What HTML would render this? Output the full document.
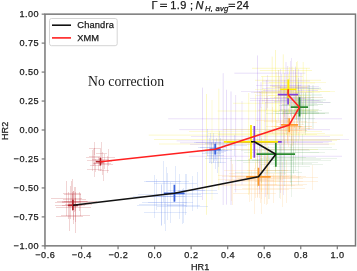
<!DOCTYPE html>
<html><head><meta charset="utf-8"><style>
html,body{margin:0;padding:0;background:#fff;width:357px;height:271px;overflow:hidden}
svg{display:block;will-change:transform;filter:blur(0.35px)}
text{font-family:"Liberation Sans",sans-serif;fill:#1a1a1a;stroke:#1a1a1a;stroke-width:0.25px}
</style></head><body>
<svg width="357" height="271" viewBox="0 0 357 271">

<defs><filter id="bl" x="-5%" y="-5%" width="110%" height="110%"><feGaussianBlur stdDeviation="0.45"/></filter></defs>
<g stroke-width="1" fill="none" filter="url(#bl)">
<path d="M202.5 87.6V200.0" stroke="#8040dc" stroke-opacity="0.18"/>
<path d="M223.2 73.2V205.0" stroke="#8040dc" stroke-opacity="0.18"/>
<path d="M226.5 89.8V204.6" stroke="#8040dc" stroke-opacity="0.18"/>
<path d="M231.0 91.4V205.0" stroke="#8040dc" stroke-opacity="0.18"/>
<path d="M235.6 95.0V192.4" stroke="#8040dc" stroke-opacity="0.16"/>
<path d="M242.0 101.0V185.0" stroke="#8040dc" stroke-opacity="0.14"/>
<path d="M168.2 118.8H342.0" stroke="#8040dc" stroke-opacity="0.16"/>
<path d="M179.3 129.6H330.0" stroke="#8040dc" stroke-opacity="0.16"/>
<path d="M176.7 140.8H332.0" stroke="#8040dc" stroke-opacity="0.14"/>
<path d="M188.9 156.3H342.0" stroke="#8040dc" stroke-opacity="0.16"/>
<path d="M180.0 142.8H328.7" stroke="#8040dc" stroke-opacity="0.14"/>
<path d="M206.5 94.0V214.8" stroke="#f0e000" stroke-opacity="0.22"/>
<path d="M218.8 88.7V190.0" stroke="#f0e000" stroke-opacity="0.2"/>
<path d="M248.7 93.0V195.0" stroke="#f0e000" stroke-opacity="0.2"/>
<path d="M212.0 100.0V200.0" stroke="#f0e000" stroke-opacity="0.16"/>
<path d="M148.8 135.1H343.0" stroke="#f0e000" stroke-opacity="0.2"/>
<path d="M154.0 139.5H340.0" stroke="#f0e000" stroke-opacity="0.2"/>
<path d="M159.0 144.0H335.0" stroke="#f0e000" stroke-opacity="0.2"/>
<path d="M233.0 103.3H300.0" stroke="#f0e000" stroke-opacity="0.18"/>
<path d="M217.6 111.0H300.0" stroke="#f0e000" stroke-opacity="0.18"/>
<path d="M272.2 56.6V123.0" stroke="#f0e000" stroke-opacity="0.22"/>
<path d="M275.5 50.0V128.0" stroke="#f0e000" stroke-opacity="0.22"/>
<path d="M283.3 54.4V125.0" stroke="#f0e000" stroke-opacity="0.22"/>
<path d="M292.0 66.6V113.0" stroke="#f0e000" stroke-opacity="0.2"/>
<path d="M303.2 62.0V118.0" stroke="#f0e000" stroke-opacity="0.2"/>
<path d="M296.5 62.0V118.0" stroke="#f0e000" stroke-opacity="0.2"/>
<path d="M262.7 76.5V104.0" stroke="#f0e000" stroke-opacity="0.2"/>
<path d="M252.0 68.3H310.0" stroke="#f0e000" stroke-opacity="0.22"/>
<path d="M259.8 70.5H312.0" stroke="#f0e000" stroke-opacity="0.2"/>
<path d="M261.0 76.5H303.0" stroke="#f0e000" stroke-opacity="0.2"/>
<path d="M255.0 80.3H321.0" stroke="#f0e000" stroke-opacity="0.22"/>
<path d="M262.0 83.0H315.0" stroke="#f0e000" stroke-opacity="0.2"/>
<path d="M258.0 110.2H318.0" stroke="#f0e000" stroke-opacity="0.2"/>
<path d="M257.5 55.5V130.0" stroke="#8040dc" stroke-opacity="0.18"/>
<path d="M286.0 62.0V125.0" stroke="#8040dc" stroke-opacity="0.16"/>
<path d="M287.6 66.0V122.0" stroke="#8040dc" stroke-opacity="0.16"/>
<path d="M295.5 66.6V120.0" stroke="#8040dc" stroke-opacity="0.16"/>
<path d="M301.0 73.0V115.0" stroke="#8040dc" stroke-opacity="0.16"/>
<path d="M261.0 82.0V108.0" stroke="#8040dc" stroke-opacity="0.16"/>
<path d="M266.5 80.0V110.0" stroke="#8040dc" stroke-opacity="0.16"/>
<path d="M234.4 73.2H305.4" stroke="#8040dc" stroke-opacity="0.18"/>
<path d="M262.0 81.0H310.0" stroke="#8040dc" stroke-opacity="0.16"/>
<path d="M270.0 85.4H310.0" stroke="#8040dc" stroke-opacity="0.16"/>
<path d="M263.0 90.5H318.0" stroke="#8040dc" stroke-opacity="0.16"/>
<path d="M262.0 100.7H320.8" stroke="#8040dc" stroke-opacity="0.16"/>
<path d="M309.0 85.0V130.0" stroke="#2a8a30" stroke-opacity="0.18"/>
<path d="M313.0 85.0V128.0" stroke="#2a8a30" stroke-opacity="0.18"/>
<path d="M295.5 88.3H321.0" stroke="#2a8a30" stroke-opacity="0.18"/>
<path d="M280.0 95.0H321.6" stroke="#2a8a30" stroke-opacity="0.16"/>
<path d="M280.0 100.0H325.7" stroke="#2a8a30" stroke-opacity="0.16"/>
<path d="M282.0 104.5H323.0" stroke="#2a8a30" stroke-opacity="0.16"/>
<path d="M276.0 113.5H325.0" stroke="#2a8a30" stroke-opacity="0.16"/>
<path d="M51 198.5H82M66.5 181V216" stroke="#b8202a" stroke-opacity="0.2"/>
<path d="M63 193.5H80M71.5 181V206" stroke="#b8202a" stroke-opacity="0.2"/>
<path d="M62 201.5H97M79.5 192V211" stroke="#b8202a" stroke-opacity="0.2"/>
<path d="M55 205.5H82M68.5 192V219" stroke="#b8202a" stroke-opacity="0.2"/>
<path d="M65 204.5H86M75.5 187V222" stroke="#b8202a" stroke-opacity="0.2"/>
<path d="M57 201.5H88M72.5 192V211" stroke="#b8202a" stroke-opacity="0.2"/>
<path d="M62 202.5H79M70.5 186V219" stroke="#b8202a" stroke-opacity="0.2"/>
<path d="M56 207.5H91M73.5 191V224" stroke="#b8202a" stroke-opacity="0.2"/>
<path d="M56 216.5H83M69.5 202V231" stroke="#b8202a" stroke-opacity="0.2"/>
<path d="M61 215.5H90M75.5 198V233" stroke="#b8202a" stroke-opacity="0.2"/>
<path d="M64 201.5H87M75.5 192V211" stroke="#b8202a" stroke-opacity="0.2"/>
<path d="M62 205.5H85M73.5 191V220" stroke="#b8202a" stroke-opacity="0.2"/>
<path d="M69 204.5H92M80.5 193V216" stroke="#b8202a" stroke-opacity="0.2"/>
<path d="M63 199.5H86M74.5 187V212" stroke="#b8202a" stroke-opacity="0.2"/>
<path d="M55 202.5H90M72.5 194V211" stroke="#b8202a" stroke-opacity="0.2"/>
<path d="M64 194.5H81M72.5 179V210" stroke="#b8202a" stroke-opacity="0.2"/>
<path d="M90 165.5H101M95.5 159V172" stroke="#b8202a" stroke-opacity="0.18"/>
<path d="M98 170.5H109M103.5 160V181" stroke="#b8202a" stroke-opacity="0.18"/>
<path d="M102 157.5H115M108.5 149V166" stroke="#b8202a" stroke-opacity="0.18"/>
<path d="M87 160.5H98M92.5 150V171" stroke="#b8202a" stroke-opacity="0.18"/>
<path d="M96 153.5H107M101.5 142V165" stroke="#b8202a" stroke-opacity="0.18"/>
<path d="M94 163.5H111M102.5 152V175" stroke="#b8202a" stroke-opacity="0.18"/>
<path d="M87 169.5H102M94.5 162V177" stroke="#b8202a" stroke-opacity="0.18"/>
<path d="M93 163.5H104M98.5 157V170" stroke="#b8202a" stroke-opacity="0.18"/>
<path d="M89 148.5H100M94.5 142V155" stroke="#b8202a" stroke-opacity="0.18"/>
<path d="M97 161.5H112M104.5 154V169" stroke="#b8202a" stroke-opacity="0.18"/>
<path d="M86 157.5H101M93.5 149V166" stroke="#b8202a" stroke-opacity="0.18"/>
<path d="M102 164.5H113M107.5 156V173" stroke="#b8202a" stroke-opacity="0.18"/>
<path d="M92 159.5H109M100.5 148V171" stroke="#b8202a" stroke-opacity="0.18"/>
<path d="M89 156.5H100M94.5 148V165" stroke="#b8202a" stroke-opacity="0.18"/>
<path d="M167 205.5H200M183.5 188V223" stroke="#3c64e0" stroke-opacity="0.14"/>
<path d="M167 193.5H218M192.5 176V211" stroke="#3c64e0" stroke-opacity="0.14"/>
<path d="M138 194.5H175M156.5 179V210" stroke="#3c64e0" stroke-opacity="0.14"/>
<path d="M150 196.5H185M167.5 173V220" stroke="#3c64e0" stroke-opacity="0.14"/>
<path d="M168 190.5H205M186.5 174V207" stroke="#3c64e0" stroke-opacity="0.14"/>
<path d="M157 196.5H202M179.5 174V219" stroke="#3c64e0" stroke-opacity="0.14"/>
<path d="M139 204.5H184M161.5 184V225" stroke="#3c64e0" stroke-opacity="0.14"/>
<path d="M146 181.5H181M163.5 161V202" stroke="#3c64e0" stroke-opacity="0.14"/>
<path d="M148 202.5H193M170.5 182V223" stroke="#3c64e0" stroke-opacity="0.14"/>
<path d="M144 212.5H187M165.5 194V231" stroke="#3c64e0" stroke-opacity="0.14"/>
<path d="M170 194.5H201M185.5 174V215" stroke="#3c64e0" stroke-opacity="0.14"/>
<path d="M133 196.5H176M154.5 175V218" stroke="#3c64e0" stroke-opacity="0.14"/>
<path d="M142 202.5H187M164.5 181V224" stroke="#3c64e0" stroke-opacity="0.14"/>
<path d="M137 205.5H186M161.5 185V226" stroke="#3c64e0" stroke-opacity="0.14"/>
<path d="M178 190.5H217M197.5 172V209" stroke="#3c64e0" stroke-opacity="0.14"/>
<path d="M157 206.5H208M182.5 189V224" stroke="#3c64e0" stroke-opacity="0.14"/>
<path d="M144 181.5H189M166.5 167V196" stroke="#3c64e0" stroke-opacity="0.14"/>
<path d="M154 183.5H197M175.5 166V201" stroke="#3c64e0" stroke-opacity="0.14"/>
<path d="M194 142.5H221M207.5 129V156" stroke="#3c64e0" stroke-opacity="0.15"/>
<path d="M209 150.5H232M220.5 138V163" stroke="#3c64e0" stroke-opacity="0.15"/>
<path d="M205 158.5H232M218.5 150V167" stroke="#3c64e0" stroke-opacity="0.15"/>
<path d="M203 150.5H220M211.5 142V159" stroke="#3c64e0" stroke-opacity="0.15"/>
<path d="M205 152.5H224M214.5 144V161" stroke="#3c64e0" stroke-opacity="0.15"/>
<path d="M197 150.5H222M209.5 138V163" stroke="#3c64e0" stroke-opacity="0.15"/>
<path d="M209 162.5H226M217.5 152V173" stroke="#3c64e0" stroke-opacity="0.15"/>
<path d="M207 155.5H224M215.5 142V169" stroke="#3c64e0" stroke-opacity="0.15"/>
<path d="M203 150.5H228M215.5 142V159" stroke="#3c64e0" stroke-opacity="0.15"/>
<path d="M198 147.5H223M210.5 133V162" stroke="#3c64e0" stroke-opacity="0.15"/>
<path d="M205 143.5H234M219.5 131V156" stroke="#3c64e0" stroke-opacity="0.15"/>
<path d="M201 151.5H226M213.5 140V163" stroke="#3c64e0" stroke-opacity="0.15"/>
<path d="M222 145.5H247M234.5 135V156" stroke="#3c64e0" stroke-opacity="0.15"/>
<path d="M208 149.5H225M216.5 138V161" stroke="#3c64e0" stroke-opacity="0.15"/>
<path d="M200 147.5H227M213.5 133V162" stroke="#3c64e0" stroke-opacity="0.15"/>
<path d="M202 153.5H221M211.5 143V164" stroke="#3c64e0" stroke-opacity="0.15"/>
<path d="M212 139.5H349M280.5 86V193" stroke="#8040dc" stroke-opacity="0.13"/>
<path d="M191 136.5H330M260.5 92V181" stroke="#8040dc" stroke-opacity="0.13"/>
<path d="M190 144.5H329M259.5 100V189" stroke="#8040dc" stroke-opacity="0.13"/>
<path d="M222 149.5H309M265.5 102V197" stroke="#8040dc" stroke-opacity="0.13"/>
<path d="M196 142.5H323M259.5 91V194" stroke="#8040dc" stroke-opacity="0.13"/>
<path d="M235 141.5H332M283.5 88V195" stroke="#8040dc" stroke-opacity="0.13"/>
<path d="M218 134.5H317M267.5 96V173" stroke="#f0e000" stroke-opacity="0.16"/>
<path d="M214 140.5H337M275.5 96V185" stroke="#f0e000" stroke-opacity="0.16"/>
<path d="M189 131.5H322M255.5 94V169" stroke="#f0e000" stroke-opacity="0.16"/>
<path d="M208 133.5H325M266.5 92V175" stroke="#f0e000" stroke-opacity="0.16"/>
<path d="M205 149.5H318M261.5 107V192" stroke="#f0e000" stroke-opacity="0.16"/>
<path d="M223 129.5H306M264.5 89V170" stroke="#f0e000" stroke-opacity="0.16"/>
<path d="M218 184.5H277M232.5 164V205" stroke="#ff9020" stroke-opacity="0.12"/>
<path d="M255 181.5H318M286.5 160V203" stroke="#ff9020" stroke-opacity="0.12"/>
<path d="M224 170.5H291M257.5 150V197" stroke="#ff9020" stroke-opacity="0.12"/>
<path d="M218 185.5H295M251.5 170V201" stroke="#ff9020" stroke-opacity="0.12"/>
<path d="M233 193.5H276M254.5 168V214" stroke="#ff9020" stroke-opacity="0.12"/>
<path d="M229 173.5H286M257.5 150V198" stroke="#ff9020" stroke-opacity="0.12"/>
<path d="M236 178.5H303M269.5 158V199" stroke="#ff9020" stroke-opacity="0.12"/>
<path d="M225 180.5H274M249.5 159V202" stroke="#ff9020" stroke-opacity="0.12"/>
<path d="M238 178.5H291M264.5 153V204" stroke="#ff9020" stroke-opacity="0.12"/>
<path d="M247 170.5H288M267.5 150V194" stroke="#ff9020" stroke-opacity="0.12"/>
<path d="M273 177.5H318M312.5 165V190" stroke="#ff9020" stroke-opacity="0.12"/>
<path d="M229 176.5H306M267.5 150V204" stroke="#ff9020" stroke-opacity="0.12"/>
<path d="M232 176.5H289M260.5 150V203" stroke="#ff9020" stroke-opacity="0.12"/>
<path d="M242 188.5H305M273.5 174V203" stroke="#ff9020" stroke-opacity="0.12"/>
<path d="M236 179.5H283M259.5 161V198" stroke="#ff9020" stroke-opacity="0.12"/>
<path d="M230 181.5H303M266.5 158V205" stroke="#ff9020" stroke-opacity="0.12"/>
<path d="M235 177.5H300M267.5 160V195" stroke="#ff9020" stroke-opacity="0.12"/>
<path d="M218 175.5H296M249.5 158V193" stroke="#ff9020" stroke-opacity="0.12"/>
<path d="M258 184.5H307M282.5 162V207" stroke="#ff9020" stroke-opacity="0.12"/>
<path d="M218 179.5H267M231.5 158V201" stroke="#ff9020" stroke-opacity="0.12"/>
<path d="M234 189.5H289M261.5 165V214" stroke="#ff9020" stroke-opacity="0.12"/>
<path d="M229 180.5H282M255.5 163V198" stroke="#ff9020" stroke-opacity="0.12"/>
<path d="M222 176.5H301M261.5 154V199" stroke="#ff9020" stroke-opacity="0.12"/>
<path d="M258 185.5H303M280.5 172V199" stroke="#ff9020" stroke-opacity="0.12"/>
<path d="M244 152.5H319M281.5 129V176" stroke="#2a8a30" stroke-opacity="0.1"/>
<path d="M261 170.5H298M279.5 143V198" stroke="#2a8a30" stroke-opacity="0.1"/>
<path d="M260 158.5H337M298.5 132V185" stroke="#2a8a30" stroke-opacity="0.1"/>
<path d="M252 160.5H331M291.5 134V187" stroke="#2a8a30" stroke-opacity="0.1"/>
<path d="M262 152.5H325M293.5 131V174" stroke="#2a8a30" stroke-opacity="0.1"/>
<path d="M260 164.5H323M291.5 144V185" stroke="#2a8a30" stroke-opacity="0.1"/>
<path d="M248 159.5H321M284.5 133V186" stroke="#2a8a30" stroke-opacity="0.1"/>
<path d="M259 147.5H332M295.5 124V171" stroke="#2a8a30" stroke-opacity="0.1"/>
<path d="M241 150.5H310M275.5 129V172" stroke="#2a8a30" stroke-opacity="0.1"/>
<path d="M271 157.5H316M293.5 142V173" stroke="#2a8a30" stroke-opacity="0.1"/>
<path d="M268 149.5H337M302.5 134V165" stroke="#2a8a30" stroke-opacity="0.1"/>
<path d="M230 160.5H293M261.5 138V183" stroke="#2a8a30" stroke-opacity="0.1"/>
<path d="M263 157.5H306M284.5 140V175" stroke="#2a8a30" stroke-opacity="0.1"/>
<path d="M243 162.5H318M280.5 145V180" stroke="#2a8a30" stroke-opacity="0.1"/>
<path d="M269 163.5H312M290.5 144V183" stroke="#2a8a30" stroke-opacity="0.1"/>
<path d="M273 166.5H310M291.5 136V197" stroke="#2a8a30" stroke-opacity="0.1"/>
<path d="M235 172.5H302M268.5 146V199" stroke="#2a8a30" stroke-opacity="0.1"/>
<path d="M237 160.5H278M257.5 134V187" stroke="#2a8a30" stroke-opacity="0.1"/>
<path d="M269 132.5H306M287.5 121V144" stroke="#ff9020" stroke-opacity="0.13"/>
<path d="M277 126.5H302M289.5 116V137" stroke="#ff9020" stroke-opacity="0.13"/>
<path d="M262 133.5H291M276.5 120V147" stroke="#ff9020" stroke-opacity="0.13"/>
<path d="M266 126.5H303M284.5 109V144" stroke="#ff9020" stroke-opacity="0.13"/>
<path d="M273 128.5H310M291.5 109V148" stroke="#ff9020" stroke-opacity="0.13"/>
<path d="M264 121.5H307M285.5 111V132" stroke="#ff9020" stroke-opacity="0.13"/>
<path d="M285 128.5H314M299.5 118V139" stroke="#ff9020" stroke-opacity="0.13"/>
<path d="M256 120.5H289M272.5 107V134" stroke="#ff9020" stroke-opacity="0.13"/>
<path d="M271 126.5H312M291.5 112V141" stroke="#ff9020" stroke-opacity="0.13"/>
<path d="M279 124.5H304M291.5 114V135" stroke="#ff9020" stroke-opacity="0.13"/>
<path d="M274 126.5H301M287.5 112V141" stroke="#ff9020" stroke-opacity="0.13"/>
<path d="M278 127.5H299M288.5 108V147" stroke="#ff9020" stroke-opacity="0.13"/>
<path d="M278 130.5H307M292.5 115V146" stroke="#ff9020" stroke-opacity="0.13"/>
<path d="M282 127.5H305M293.5 112V143" stroke="#ff9020" stroke-opacity="0.13"/>
<path d="M276 122.5H317M296.5 110V135" stroke="#ff9020" stroke-opacity="0.13"/>
<path d="M281 126.5H312M296.5 111V142" stroke="#ff9020" stroke-opacity="0.13"/>
<path d="M265 130.5H302M283.5 111V150" stroke="#ff9020" stroke-opacity="0.13"/>
<path d="M268 130.5H307M287.5 118V143" stroke="#ff9020" stroke-opacity="0.13"/>
<path d="M292 112.5H319M305.5 93V132" stroke="#2a8a30" stroke-opacity="0.11"/>
<path d="M290 103.5H317M303.5 93V114" stroke="#2a8a30" stroke-opacity="0.11"/>
<path d="M283 111.5H318M300.5 95V128" stroke="#2a8a30" stroke-opacity="0.11"/>
<path d="M279 110.5H322M300.5 100V121" stroke="#2a8a30" stroke-opacity="0.11"/>
<path d="M286 113.5H319M302.5 102V125" stroke="#2a8a30" stroke-opacity="0.11"/>
<path d="M273 111.5H316M294.5 95V128" stroke="#2a8a30" stroke-opacity="0.11"/>
<path d="M288 102.5H331M309.5 86V119" stroke="#2a8a30" stroke-opacity="0.11"/>
<path d="M266 113.5H307M286.5 92V135" stroke="#2a8a30" stroke-opacity="0.11"/>
<path d="M283 97.5H314M298.5 78V117" stroke="#2a8a30" stroke-opacity="0.11"/>
<path d="M285 110.5H310M297.5 98V123" stroke="#2a8a30" stroke-opacity="0.11"/>
<path d="M284 118.5H315M299.5 108V129" stroke="#2a8a30" stroke-opacity="0.11"/>
<path d="M289 99.5H314M301.5 89V110" stroke="#2a8a30" stroke-opacity="0.11"/>
<path d="M282 113.5H329M305.5 92V135" stroke="#2a8a30" stroke-opacity="0.11"/>
<path d="M279 105.5H314M296.5 91V120" stroke="#2a8a30" stroke-opacity="0.11"/>
<path d="M280 109.5H319M299.5 90V129" stroke="#2a8a30" stroke-opacity="0.11"/>
<path d="M281 105.5H318M299.5 93V118" stroke="#2a8a30" stroke-opacity="0.11"/>
<path d="M274 101.5H323M298.5 82V121" stroke="#2a8a30" stroke-opacity="0.11"/>
<path d="M282 112.5H329M305.5 97V128" stroke="#2a8a30" stroke-opacity="0.11"/>
<path d="M250 98.5H311M280.5 69V128" stroke="#8040dc" stroke-opacity="0.13"/>
<path d="M241 91.5H294M267.5 75V108" stroke="#8040dc" stroke-opacity="0.13"/>
<path d="M275 87.5H308M291.5 58V117" stroke="#8040dc" stroke-opacity="0.13"/>
<path d="M274 97.5H323M298.5 69V126" stroke="#8040dc" stroke-opacity="0.13"/>
<path d="M264 98.5H305M284.5 80V117" stroke="#8040dc" stroke-opacity="0.13"/>
<path d="M251 92.5H312M281.5 74V111" stroke="#8040dc" stroke-opacity="0.13"/>
<path d="M250 100.5H319M284.5 73V128" stroke="#8040dc" stroke-opacity="0.13"/>
<path d="M272 86.5H319M295.5 69V104" stroke="#8040dc" stroke-opacity="0.13"/>
<path d="M278 87.5H309M293.5 70V105" stroke="#8040dc" stroke-opacity="0.13"/>
<path d="M265 102.5H330M298.5 85V120" stroke="#8040dc" stroke-opacity="0.13"/>
<path d="M262 88.5H319M290.5 61V116" stroke="#8040dc" stroke-opacity="0.13"/>
<path d="M256 85.5H301M278.5 70V101" stroke="#8040dc" stroke-opacity="0.13"/>
<path d="M261 93.5H298M279.5 76V111" stroke="#f0e000" stroke-opacity="0.14"/>
<path d="M268 95.5H311M289.5 78V113" stroke="#f0e000" stroke-opacity="0.14"/>
<path d="M256 95.5H301M278.5 70V121" stroke="#f0e000" stroke-opacity="0.14"/>
<path d="M269 82.5H326M297.5 61V104" stroke="#f0e000" stroke-opacity="0.14"/>
<path d="M254 92.5H299M276.5 72V113" stroke="#f0e000" stroke-opacity="0.14"/>
<path d="M266 87.5H307M286.5 74V101" stroke="#f0e000" stroke-opacity="0.14"/>
<path d="M270 97.5H323M296.5 75V120" stroke="#f0e000" stroke-opacity="0.14"/>
<path d="M255 89.5H322M288.5 74V105" stroke="#f0e000" stroke-opacity="0.14"/>
<path d="M259 92.5H320M289.5 71V114" stroke="#f0e000" stroke-opacity="0.14"/>
<path d="M278 91.5H335M306.5 68V115" stroke="#f0e000" stroke-opacity="0.14"/>
<path d="M270 86.5H309M289.5 67V106" stroke="#f0e000" stroke-opacity="0.14"/>
<path d="M261 91.5H330M295.5 72V111" stroke="#f0e000" stroke-opacity="0.14"/>
</g>
<path d="M67.9 205.3H77.9M72.9 199.8V210.1" stroke="#b3242c" stroke-width="1.7" fill="none"/>
<path d="M163.9 193.3H184.6M174.4 184.8V201.8" stroke="#3c64dc" stroke-width="1.7" fill="none"/>
<path d="M246.2 176.8H270.7M258.5 167.7V185.8" stroke="#ff9a2e" stroke-width="1.7" fill="none"/>
<path d="M256.6 154.2H295.0M275.8 141.2V166.7" stroke="#2a8a30" stroke-width="1.7" fill="none"/>
<path d="M227.0 141.8H281.7M254.3 126.0V157.8" stroke="#8040dc" stroke-width="1.7" fill="none"/>
<path d="M223.8 141.8H278.0M251.0 125.1V158.9" stroke="#ffea00" stroke-width="1.7" fill="none"/>
<path d="M95.8 161.7H103.6M100.4 157.8V165.6" stroke="#b3242c" stroke-width="1.7" fill="none"/>
<path d="M209.6 149.3H220.7M215.2 143.8V154.6" stroke="#3c64dc" stroke-width="1.7" fill="none"/>
<path d="M281.1 124.9H298.0M289.2 118.3V132.3" stroke="#ff9a2e" stroke-width="1.7" fill="none"/>
<path d="M290.7 107.2H308.1M299.5 97.3V116.5" stroke="#2a8a30" stroke-width="1.7" fill="none"/>
<path d="M277.8 94.7H298.0M288.1 89.0V104.5" stroke="#8040dc" stroke-width="1.7" fill="none"/>
<path d="M280.2 89.3H296.3M288.2 79.5V98.2" stroke="#ffea00" stroke-width="1.7" fill="none"/>
<path d="M72.9 205.3 L174.4 193.3 L258.5 176.8 L275.8 154.2 L254.3 141.8 L251.0 141.8" stroke="#111" stroke-width="1.6" fill="none" stroke-linejoin="round"/>
<path d="M100.4 161.7 L215.2 149.3 L289.2 124.9 L299.5 107.2 L288.1 94.7 L288.2 89.3" stroke="#ff2020" stroke-width="1.6" fill="none" stroke-linejoin="round"/>
<rect x="44.97" y="14.15" width="310.53" height="231.70" fill="none" stroke="#787878" stroke-width="1.5"/>
<line x1="44.98" y1="245.85" x2="44.98" y2="249.15" stroke="#787878" stroke-width="1.2"/>
<text x="45.28" y="258.3" font-size="9.1" letter-spacing="0.5" text-anchor="middle">−0.6</text>
<line x1="81.52" y1="245.85" x2="81.52" y2="249.15" stroke="#787878" stroke-width="1.2"/>
<text x="81.82" y="258.3" font-size="9.1" letter-spacing="0.5" text-anchor="middle">−0.4</text>
<line x1="118.06" y1="245.85" x2="118.06" y2="249.15" stroke="#787878" stroke-width="1.2"/>
<text x="118.36" y="258.3" font-size="9.1" letter-spacing="0.5" text-anchor="middle">−0.2</text>
<line x1="154.60" y1="245.85" x2="154.60" y2="249.15" stroke="#787878" stroke-width="1.2"/>
<text x="154.90" y="258.3" font-size="9.1" letter-spacing="0.5" text-anchor="middle">0.0</text>
<line x1="191.14" y1="245.85" x2="191.14" y2="249.15" stroke="#787878" stroke-width="1.2"/>
<text x="191.44" y="258.3" font-size="9.1" letter-spacing="0.5" text-anchor="middle">0.2</text>
<line x1="227.68" y1="245.85" x2="227.68" y2="249.15" stroke="#787878" stroke-width="1.2"/>
<text x="227.98" y="258.3" font-size="9.1" letter-spacing="0.5" text-anchor="middle">0.4</text>
<line x1="264.22" y1="245.85" x2="264.22" y2="249.15" stroke="#787878" stroke-width="1.2"/>
<text x="264.52" y="258.3" font-size="9.1" letter-spacing="0.5" text-anchor="middle">0.6</text>
<line x1="300.76" y1="245.85" x2="300.76" y2="249.15" stroke="#787878" stroke-width="1.2"/>
<text x="301.06" y="258.3" font-size="9.1" letter-spacing="0.5" text-anchor="middle">0.8</text>
<line x1="337.30" y1="245.85" x2="337.30" y2="249.15" stroke="#787878" stroke-width="1.2"/>
<text x="337.60" y="258.3" font-size="9.1" letter-spacing="0.5" text-anchor="middle">1.0</text>
<line x1="41.67" y1="14.15" x2="44.97" y2="14.15" stroke="#787878" stroke-width="1.2"/>
<text x="39.1" y="17.25" font-size="9.1" letter-spacing="0.5" text-anchor="end">1.00</text>
<line x1="41.67" y1="43.11" x2="44.97" y2="43.11" stroke="#787878" stroke-width="1.2"/>
<text x="39.1" y="46.21" font-size="9.1" letter-spacing="0.5" text-anchor="end">0.75</text>
<line x1="41.67" y1="72.08" x2="44.97" y2="72.08" stroke="#787878" stroke-width="1.2"/>
<text x="39.1" y="75.17" font-size="9.1" letter-spacing="0.5" text-anchor="end">0.50</text>
<line x1="41.67" y1="101.04" x2="44.97" y2="101.04" stroke="#787878" stroke-width="1.2"/>
<text x="39.1" y="104.14" font-size="9.1" letter-spacing="0.5" text-anchor="end">0.25</text>
<line x1="41.67" y1="130.00" x2="44.97" y2="130.00" stroke="#787878" stroke-width="1.2"/>
<text x="39.1" y="133.10" font-size="9.1" letter-spacing="0.5" text-anchor="end">0.00</text>
<line x1="41.67" y1="158.96" x2="44.97" y2="158.96" stroke="#787878" stroke-width="1.2"/>
<text x="39.1" y="162.06" font-size="9.1" letter-spacing="0.5" text-anchor="end">−0.25</text>
<line x1="41.67" y1="187.93" x2="44.97" y2="187.93" stroke="#787878" stroke-width="1.2"/>
<text x="39.1" y="191.03" font-size="9.1" letter-spacing="0.5" text-anchor="end">−0.50</text>
<line x1="41.67" y1="216.89" x2="44.97" y2="216.89" stroke="#787878" stroke-width="1.2"/>
<text x="39.1" y="219.99" font-size="9.1" letter-spacing="0.5" text-anchor="end">−0.75</text>
<line x1="41.67" y1="245.85" x2="44.97" y2="245.85" stroke="#787878" stroke-width="1.2"/>
<text x="39.1" y="248.95" font-size="9.1" letter-spacing="0.5" text-anchor="end">−1.00</text>
<text x="200.1" y="270.2" font-size="9.1" letter-spacing="0.05" text-anchor="middle">HR1</text>
<text transform="translate(7.6 130.8) rotate(-90)" font-size="9.1" letter-spacing="0.1" text-anchor="middle">HR2</text>
<text y="8.8" font-size="11"><tspan x="151.6">Γ</tspan><tspan x="170.3" letter-spacing="0.35">1.9</tspan><tspan x="190.0">;</tspan><tspan x="195.6" font-style="italic">N</tspan><tspan x="204.9" y="10.9" font-size="7.7" font-style="italic" letter-spacing="0.25">H, avg</tspan><tspan x="236.4" y="8.8" letter-spacing="0.3">24</tspan></text>
<path d="M160.1 4.3H167M160.1 6.5H167M228.5 4.3H235.1M228.5 6.5H235.1" stroke="#1a1a1a" stroke-width="1.05"/>
<rect x="49.5" y="18.5" width="67.7" height="27.2" rx="2" fill="#fff" fill-opacity="0.8" stroke="#d0d0d0" stroke-width="0.9"/>
<line x1="52" y1="25.2" x2="71" y2="25.2" stroke="#111" stroke-width="1.6"/>
<line x1="52" y1="37.9" x2="71" y2="37.9" stroke="#ff2020" stroke-width="1.6"/>
<text x="77.3" y="28.2" font-size="9.3" letter-spacing="0.15">Chandra</text>
<text x="77.3" y="40.9" font-size="9.3">XMM</text>
<text x="88.1" y="86.1" font-size="13.75" style="font-family:'Liberation Serif',serif;stroke:none" fill="#111">No correction</text>
</svg></body></html>
